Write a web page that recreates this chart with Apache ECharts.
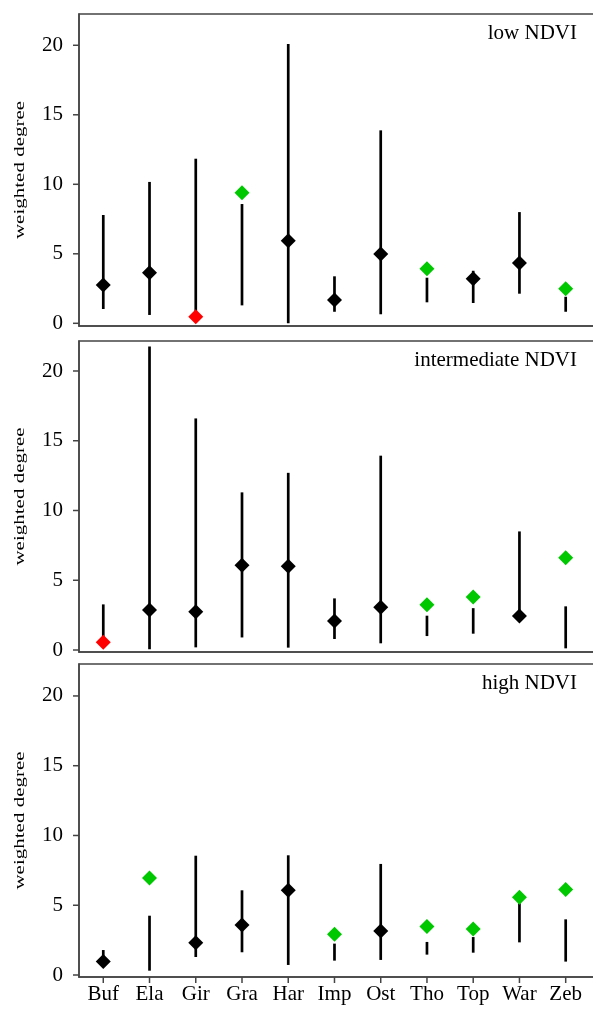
<!DOCTYPE html>
<html><head><meta charset="utf-8">
<script src="https://cdn.jsdelivr.net/npm/echarts@6/dist/echarts.min.js"></script>
<style>html,body{margin:0;padding:0;background:#fff}#c{width:593px;height:1011px}</style>
</head><body><div id="c"></div>
<script>
const categories = ['Buf','Ela','Gir','Gra','Har','Imp','Ost','Tho','Top','War','Zeb'];
const yTicks = [0, 5, 10, 15, 20];
const panelTitles = ['low NDVI', 'intermediate NDVI', 'high NDVI'];
const yAxisName = 'weighted degree';

// low NDVI
const lowObs    = [2.76, 3.64, 0.47, 9.40, 5.94, 1.68, 4.99, 3.93, 3.21, 4.34, 2.49];
const lowLo     = [1.03, 0.60, 0.60, 1.29, 0.00, 0.83, 0.65, 1.51, 1.46, 2.13, 0.83];
const lowHi     = [7.79, 10.17, 11.84, 8.58, 20.10, 3.38, 13.88, 3.28, 3.78, 8.00, 1.91];
const lowStatus = ['k','k','r','g','k','k','k','g','k','k','g'];

// intermediate NDVI
const midObs    = [0.55, 2.87, 2.75, 6.07, 6.00, 2.08, 3.06, 3.25, 3.80, 2.44, 6.62];
const midLo     = [0.70, 0.05, 0.19, 0.90, 0.17, 0.79, 0.48, 1.00, 1.17, 2.40, 0.12];
const midHi     = [3.27, 21.75, 16.60, 11.30, 12.70, 3.70, 13.93, 2.46, 3.00, 8.50, 3.13];
const midStatus = ['r','k','k','k','k','k','k','g','g','k','g'];

// high NDVI
const highObs    = [0.96, 6.95, 2.32, 3.58, 6.07, 2.92, 3.15, 3.47, 3.30, 5.57, 6.12];
const highLo     = [0.90, 0.31, 1.29, 1.63, 0.72, 1.03, 1.08, 1.46, 1.60, 2.34, 0.96];
const highHi     = [1.79, 4.25, 8.55, 6.07, 8.58, 2.25, 7.96, 2.37, 2.72, 5.14, 3.99];
const highStatus = ['k','g','k','k','k','g','k','g','g','g','g'];

const colorMap = { k: '#000000', g: '#00C800', r: '#FF0000' };
const FONT = '"Liberation Serif", "Times New Roman", serif';
const FRAME = '#444444';
const TICK_LEN = 6;

const panels = [
  { obs: lowObs,  lo: lowLo,  hi: lowHi,  st: lowStatus,  top: 14,  height: 312, ymin: -0.194, ymax: 22.25 },
  { obs: midObs,  lo: midLo,  hi: midHi,  st: midStatus,  top: 341, height: 311, ymin: -0.143, ymax: 22.15 },
  { obs: highObs, lo: highLo, hi: highHi, st: highStatus, top: 664, height: 313, ymin: -0.143, ymax: 22.29 }
];

const grids = [], xAxes = [], yAxes = [], series = [], titles = [], graphics = [];
const xIdx = categories.map((c, j) => j);

panels.forEach((p, i) => {
  const isBottom = i === 2;
  grids.push({ left: 79, top: p.top, width: 521, height: p.height, show: true,
    outerBoundsMode: 'none', containLabel: false,
    borderColor: FRAME, borderWidth: 1.5, backgroundColor: 'transparent' });
  xAxes.push({ type: 'value', gridIndex: i, min: -0.525, max: 10.742, position: 'bottom',
    axisLine: { show: true, onZero: false, lineStyle: { color: FRAME, width: 1.5 } },
    splitLine: { show: false }, axisTick: { show: false },
    axisLabel: { show: isBottom, customValues: xIdx, formatter: v => categories[Math.round(v)],
      margin: 7, fontFamily: FONT, fontSize: 21, color: '#000' } });
  yAxes.push({ type: 'value', gridIndex: i, min: p.ymin, max: p.ymax, position: 'left',
    axisLine: { show: true, onZero: false, lineStyle: { color: FRAME, width: 1.5 } },
    splitLine: { show: false }, axisTick: { show: false },
    axisLabel: { customValues: yTicks, margin: 16, fontFamily: FONT, fontSize: 21, color: '#000' } });

  // y-axis tick marks, placed through the axis scale
  series.push({ type: 'custom', xAxisIndex: i, yAxisIndex: i, silent: true, clip: false, z: 1,
    data: yTicks.map(v => [0, v]), encode: { x: 0, y: 1 },
    renderItem: (params, api) => {
      const cs = params.coordSys;
      const y = api.coord([0, api.value(1)])[1];
      return { type: 'line', shape: { x1: cs.x - TICK_LEN, y1: y, x2: cs.x, y2: y },
        style: { stroke: FRAME, lineWidth: 1.5 } };
    } });
  // x-axis tick marks (bottom panel only)
  if (isBottom) {
    series.push({ type: 'custom', xAxisIndex: i, yAxisIndex: i, silent: true, clip: false, z: 1,
      data: xIdx.map(j => [j, 0]), encode: { x: 0, y: 1 },
      renderItem: (params, api) => {
        const cs = params.coordSys;
        const x = api.coord([api.value(0), 0])[0];
        const yb = cs.y + cs.height;
        return { type: 'line', shape: { x1: x, y1: yb, x2: x, y2: yb + TICK_LEN },
          style: { stroke: FRAME, lineWidth: 1.5 } };
      } });
  }
  // interval lines
  series.push({ type: 'custom', xAxisIndex: i, yAxisIndex: i, silent: true, z: 2,
    data: xIdx.map(j => [j, p.lo[j], p.hi[j]]),
    encode: { x: 0, y: [1, 2] },
    renderItem: (params, api) => {
      const a = api.coord([api.value(0), api.value(1)]);
      const b = api.coord([api.value(0), api.value(2)]);
      return { type: 'line', shape: { x1: a[0], y1: a[1], x2: b[0], y2: b[1] },
        style: { stroke: '#000', lineWidth: 2.7 } };
    } });
  // observed values
  series.push({ type: 'scatter', xAxisIndex: i, yAxisIndex: i, silent: true, z: 3,
    symbol: 'diamond', symbolSize: 15,
    data: xIdx.map(j => ({ value: [j, p.obs[j]], itemStyle: { color: colorMap[p.st[j]], opacity: 1 } })) });
  titles.push({ text: panelTitles[i], right: 11, top: p.top + 4,
    textStyle: { fontFamily: FONT, fontSize: 21, fontWeight: 'normal', color: '#000' } });
  graphics.push({ type: 'text', x: 20.5, y: p.top + p.height / 2, rotation: Math.PI / 2, scaleY: 0.72,
    silent: true,
    style: { text: yAxisName, font: '21px ' + FONT, fill: '#000', textAlign: 'center', textVerticalAlign: 'middle' } });
});

const chart = echarts.init(document.getElementById('c'));
chart.setOption({
  animation: false,
  backgroundColor: '#fff',
  title: titles,
  grid: grids,
  xAxis: xAxes,
  yAxis: yAxes,
  series: series,
  graphic: graphics
});
</script>
</body></html>
